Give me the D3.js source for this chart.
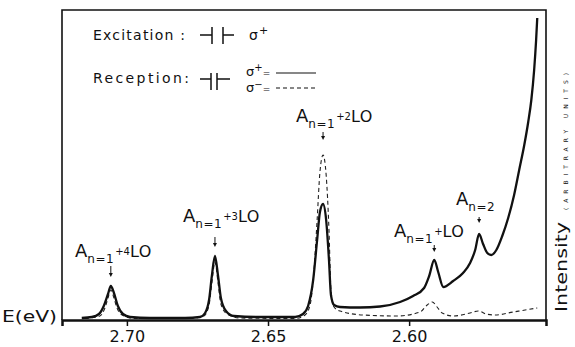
<!DOCTYPE html>
<html>
<head>
<meta charset="utf-8">
<script src="https://cdn.jsdelivr.net/npm/d3@7"></script>
<style>
	body { margin: 0; background: white; }
	text { font-family: "DejaVu Sans", sans-serif; fill: #111; }
</style>
</head>
<body>
<script>
// photoluminescence spectrum, sigma+ excitation, sigma+ / sigma- reception
// intensity in arbitrary units (0 = baseline)

var xTicks = [2.70, 2.65, 2.60]

// sigma+ reception (solid)
var plusE = [
	2.7160, 2.7124, 2.7099, 2.7082, 2.7067, 2.7057, 2.7046, 2.7032, 2.7014, 2.6989,
	2.6918, 2.6794, 2.6741, 2.6723, 2.6709, 2.6699, 2.6688, 2.6677, 2.6667, 2.6649,
	2.6621, 2.6528, 2.6404, 2.6376, 2.6358, 2.6340, 2.6326, 2.6316, 2.6305, 2.6294,
	2.6284, 2.6277, 2.6266, 2.6245, 2.6174, 2.6103, 2.6032, 2.5986, 2.5947, 2.5929,
	2.5911, 2.5897, 2.5879, 2.5844, 2.5809, 2.5784, 2.5766, 2.5752, 2.5738, 2.5723,
	2.5709, 2.5691, 2.5670, 2.5649, 2.5628, 2.5610, 2.5592, 2.5578, 2.5567, 2.5557,
	2.5550, 2.5546
]
var plusI = [
	2, 3, 6, 14, 26, 34, 27, 14, 6, 3,
	2, 2, 3, 7, 20, 44, 64, 44, 22, 9,
	4, 3, 3, 6, 14, 40, 80, 108, 116, 100,
	60, 25, 15, 13, 12.5, 13.5, 18, 24, 32, 44,
	60, 48, 33, 39, 47, 57, 70, 86, 76, 67,
	65, 70, 84, 102, 125, 150, 175, 198, 220, 250,
	280, 302
]

// sigma- reception (dashed)
var minusE = [
	2.7149, 2.7096, 2.7078, 2.7067, 2.7057, 2.7046, 2.7035, 2.7014, 2.6972, 2.6777,
	2.6727, 2.6709, 2.6699, 2.6688, 2.6677, 2.6667, 2.6645, 2.6599, 2.6404, 2.6369,
	2.6351, 2.6337, 2.6326, 2.6316, 2.6305, 2.6294, 2.6284, 2.6277, 2.6266, 2.6245,
	2.6163, 2.6043, 2.5961, 2.5936, 2.5918, 2.5901, 2.5883, 2.5844, 2.5784, 2.5755,
	2.5727, 2.5695, 2.5631, 2.5546
]
var minusI = [
	1.5, 4, 12, 22, 30, 22, 12, 4.5, 1.5, 1.5,
	4, 15, 37, 58, 37, 16, 6, 2, 1.5, 5,
	15, 50, 100, 148, 165, 145, 90, 30, 13, 9,
	5, 4, 8, 15, 18, 13, 7, 4, 7, 9,
	6, 5, 8, 12
]

// peak annotations: energy, intensity at arrow tip, subscript, small raised part, tail
var peakE = [2.7057, 2.6688, 2.6305, 2.5911, 2.5752]
var peakTip = [43, 73, 180, 68, 97]
var peakSub = ['n=1', 'n=1', 'n=1', 'n=1', 'n=2']
var peakSup = ['+4', '+3', '+2', '+', '']
var peakTail = ['LO', 'LO', 'LO', 'LO', '']

var width = 575, height = 347

var svg = d3.select('body').append('svg')
	.attr('width', width)
	.attr('height', height)

var x = d3.scaleLinear()
	.domain([2.723, 2.5515])
	.range([62, 546])

var y = d3.scaleLinear()
	.domain([0, 310])
	.range([320, 10])

// frame
svg.append('path')
	.attr('d', 'M' + x.range()[0] + ',' + y(0) + 'V' + y(310) + 'H' + x.range()[1] + 'V' + y(0))
	.attr('fill', 'none')
	.attr('stroke', '#111')
	.attr('stroke-width', 1.6)

// x axis
var axis = svg.append('g')
	.attr('transform', 'translate(0,' + y(0) + ')')
	.call(d3.axisBottom(x)
		.tickValues(xTicks)
		.tickFormat(d3.format('.2f'))
		.tickSizeOuter(0)
		.tickSize(6)
		.tickPadding(5))

axis.select('.domain')
	.attr('stroke', '#111')
	.attr('stroke-width', 2.5)
axis.selectAll('.tick line')
	.attr('stroke', '#111')
	.attr('stroke-width', 1.5)
axis.selectAll('.tick text')
	.attr('font-family', '"DejaVu Sans", sans-serif')
	.attr('font-size', 16)
	.attr('fill', '#111')

svg.append('text')
	.attr('x', 2)
	.attr('y', 322)
	.attr('font-size', 15)
	.attr('textLength', 55)
	.attr('lengthAdjust', 'spacingAndGlyphs')
	.text('E(eV)')

// y label
var ylab = svg.append('g')
	.attr('transform', 'translate(567,312) rotate(-90)')
ylab.append('text')
	.attr('x', 0)
	.attr('y', 0)
	.attr('font-size', 16)
	.attr('textLength', 90)
	.attr('lengthAdjust', 'spacingAndGlyphs')
	.text('Intensity')
ylab.append('text')
	.attr('x', 102)
	.attr('y', 1)
	.attr('font-size', 6)
	.attr('textLength', 137)
	.attr('lengthAdjust', 'spacing')
	.text('(ARBITRARY UNITS)')

// curves
var line = d3.line()
	.x(d => x(d[0]))
	.y(d => y(d[1]))
	.curve(d3.curveMonotoneX)

svg.append('path')
	.datum(minusE.map((e, i) => [e, minusI[i]]))
	.attr('d', line)
	.attr('fill', 'none')
	.attr('stroke', '#222')
	.attr('stroke-width', 1.1)
	.attr('stroke-dasharray', '4,3')

svg.append('path')
	.datum(plusE.map((e, i) => [e, plusI[i]]))
	.attr('d', line)
	.attr('fill', 'none')
	.attr('stroke', '#111')
	.attr('stroke-width', 2.3)
	.attr('stroke-linejoin', 'round')

// annotations
var labelPos = [[75, 257], [183, 222], [296, 122], [394, 237], [456, 205]]
var arrowLen = [11, 10, 8, 7, 6]

peakE.forEach(function(e, i) {
	var ax = x(e), tip = y(peakTip[i]), top = tip - arrowLen[i]
	svg.append('line')
		.attr('x1', ax).attr('x2', ax)
		.attr('y1', top).attr('y2', tip - 3)
		.attr('stroke', '#111')
		.attr('stroke-width', 1)
	svg.append('path')
		.attr('d', 'M' + (ax - 2) + ',' + (tip - 4) + 'L' + (ax + 2) + ',' + (tip - 4) + 'L' + ax + ',' + tip + 'Z')
		.attr('fill', '#111')

	var t = svg.append('text')
		.attr('x', labelPos[i][0])
		.attr('y', labelPos[i][1])
	t.append('tspan').attr('font-size', 18).text('A')
	t.append('tspan').attr('font-size', 12).attr('dy', 6).attr('letter-spacing', 0.5).text(peakSub[i])
	if (peakSup[i]) {
		t.append('tspan').attr('font-size', 10).attr('dy', -8).attr('dx', 1).text(peakSup[i])
		t.append('tspan').attr('font-size', 16).attr('dy', 2).attr('letter-spacing', 0.5).text(peakTail[i])
	}
})

// legend
svg.append('text')
	.attr('x', 93).attr('y', 40)
	.attr('font-size', 14)
	.attr('textLength', 92)
	.attr('lengthAdjust', 'spacing')
	.text('Excitation :')
svg.append('text')
	.attr('x', 93).attr('y', 83)
	.attr('font-size', 14)
	.attr('textLength', 96)
	.attr('lengthAdjust', 'spacing')
	.text('Reception:')

var sym = svg.append('g')
	.attr('stroke', '#111')
	.attr('stroke-width', 1.5)
	.attr('fill', 'none')
sym.append('path').attr('d', 'M200,35H212M212,27V44M223,27V44M223,35H234')
sym.append('path').attr('d', 'M200,79H211M211,73V90M217,73V90M217,79H230')

var s1 = svg.append('text').attr('x', 249).attr('y', 40).attr('font-size', 14)
s1.append('tspan').text('σ')
s1.append('tspan').attr('font-size', 11).attr('dy', -6).attr('dx', 1).text('+')

var s2 = svg.append('text').attr('x', 246).attr('y', 76).attr('font-size', 13)
s2.append('tspan').text('σ')
s2.append('tspan').attr('font-size', 10).attr('dy', -5).text('+')
s2.append('tspan').attr('font-size', 9).attr('dy', 5).text('=')

var s3 = svg.append('text').attr('x', 246).attr('y', 92).attr('font-size', 13)
s3.append('tspan').text('σ')
s3.append('tspan').attr('font-size', 10).attr('dy', -4).text('−')
s3.append('tspan').attr('font-size', 9).attr('dy', 4).text('=')

svg.append('line')
	.attr('x1', 276).attr('x2', 316).attr('y1', 73).attr('y2', 73)
	.attr('stroke', '#111').attr('stroke-width', 1.2)
svg.append('line')
	.attr('x1', 276).attr('x2', 316).attr('y1', 88).attr('y2', 88)
	.attr('stroke', '#111').attr('stroke-width', 1.2)
	.attr('stroke-dasharray', '4,3')
</script>
</body>
</html>
